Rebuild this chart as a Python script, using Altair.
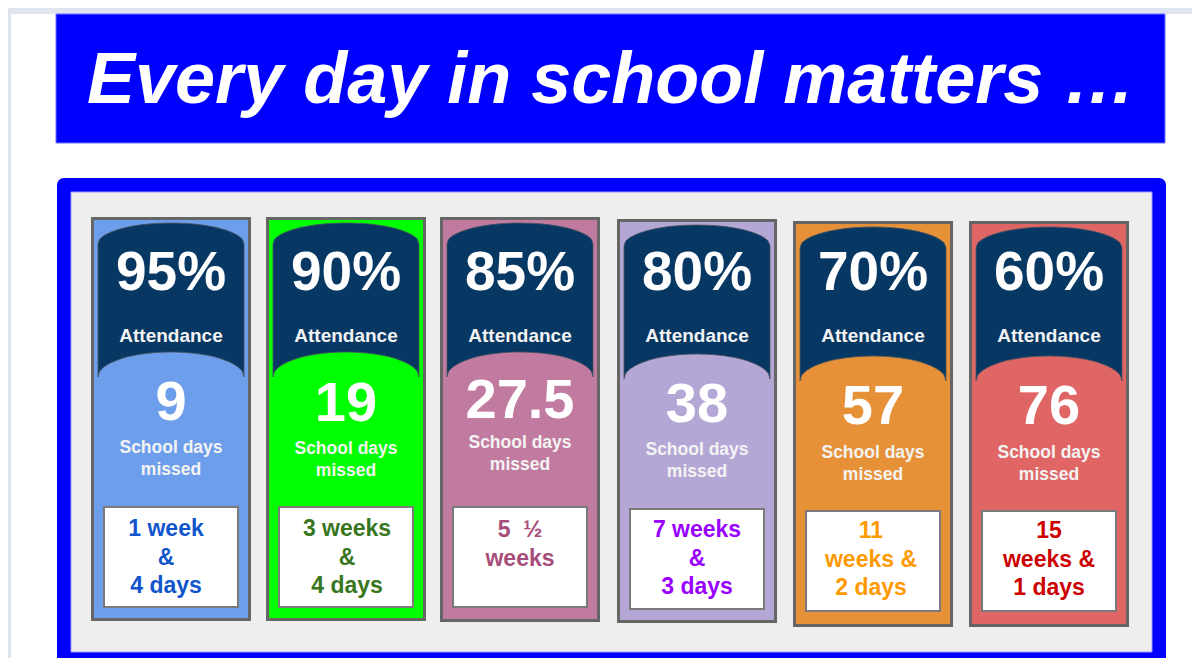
import math
import altair as alt
import pandas as pd

# ---------------- data ----------------
title = "Every day in school matters …"
attendance = ["95%", "90%", "85%", "80%", "70%", "60%"]
attendance_label = "Attendance"
days_missed = ["9", "19", "27.5", "38", "57", "76"]
missed_label = ["School days", "missed"]
equivalent = [
    ["1 week", "&", "4 days"],
    ["3 weeks", "&", "4 days"],
    ["5\u00a0\u00a0½", "weeks"],
    ["7 weeks", "&", "3 days"],
    ["11", "weeks &", "2 days"],
    ["15", "weeks &", "1 days"],
]

# ---------------- styles ----------------
card_fill = ["#6d9eeb", "#00ff00", "#c27ba0", "#b4a7d6", "#e69138", "#e06666"]
equiv_color = ["#1155cc", "#38761d", "#a64d79", "#9900ff", "#ff9900", "#cc0000"]
NAVY = "#073763"
BLUE = "#0000ff"
FONT = "Liberation Sans"

# ---------------- layout (pixel positions) ----------------
card_left = [91, 266, 440, 617, 793, 969]
card_top = [217, 217, 217, 219, 221, 221]
card_bottom = [621, 621, 622, 623, 627, 627]
CARD_W = 160
pct_base = [290, 290, 290, 290, 290, 290]
att_base = [342, 342, 342, 342, 342, 342]
num_base = [420, 421, 418, 422, 424, 424]
sd_base = [453, 454, 448, 455, 458, 458]
box_base = [536, 536, 537, 537, 538, 538]
box_text_dx = [-5, 1, 0, 0, -2, 0]

# ---------------- build tables ----------------
rects = [
    dict(x=0, x2=1200, y=0, y2=666, fill="#dfe5ef", stroke="#dfe5ef", sw=0),
    dict(x=11, x2=1200, y=14, y2=666, fill="#ffffff", stroke="#ffffff", sw=0),
    dict(x=56, x2=1165, y=14, y2=143, fill=BLUE, stroke="#6f6fff", sw=1),
]
frame = [dict(x=57, x2=1166, y=178, y2=720, fill=BLUE)]
inner = [dict(x=71, x2=1152, y=192, y2=652, fill="#eeeeee", stroke="#9a9aff", sw=1)]

cards, boxes, banners, texts = [], [], [], []
fracs = [0, 0.01, 0.03, 0.07, 0.14, 0.25, 0.38, 0.5, 0.62, 0.75, 0.86, 0.93, 0.97, 0.99, 1]
for i in range(6):
    L, T, B = card_left[i], card_top[i], card_bottom[i]
    cards.append(dict(x=L + 1.5, x2=L + CARD_W - 1.5, y=T + 1.5, y2=B - 1.5,
                      fill=card_fill[i], stroke="#666666", sw=3))
    boxes.append(dict(x=L + 13, x2=L + 147, y=T + 290, y2=T + 390,
                      fill="#ffffff", stroke="#7a7a7a", sw=2))
    for f in fracs:
        d = 1 - math.sqrt(max(0.0, 1 - (2 * f - 1) ** 2))
        banners.append(dict(card=i, x=L + 7 + f * 146,
                            y=T + 6 + 21 * d, y2=T + 135 + 25 * d))
    cx = L + 80
    texts.append(dict(x=cx, y=pct_base[i], text=attendance[i], size=55, color="#ffffff"))
    texts.append(dict(x=cx, y=att_base[i], text=attendance_label, size=19, color="#f3f3f3"))
    texts.append(dict(x=cx, y=num_base[i], text=days_missed[i], size=56, color="#ffffff"))
    texts.append(dict(x=cx, y=sd_base[i], text=missed_label[0], size=17.5, color="#f3f3f3"))
    texts.append(dict(x=cx, y=sd_base[i] + 22, text=missed_label[1], size=17.5, color="#f3f3f3"))
    for j, line in enumerate(equivalent[i]):
        texts.append(dict(x=cx + box_text_dx[i], y=box_base[i] + j * 28.5, text=line,
                          size=23, color=equiv_color[i]))

# the page has an 8px margin: chart pixel (0,0) sits at screen (8,8)
xs = alt.Scale(domain=[8, 1192], nice=False, zero=False)
ys = alt.Scale(domain=[8, 658], nice=False, zero=False, reverse=True)


def rect_layer(rows, corner=0):
    df = pd.DataFrame(rows)
    return alt.Chart(df).mark_rect(cornerRadius=corner).encode(
        x=alt.X("x:Q", scale=xs, axis=None),
        x2="x2:Q",
        y=alt.Y("y:Q", scale=ys, axis=None),
        y2="y2:Q",
        fill=alt.Fill("fill:N", scale=None),
        stroke=alt.Stroke("stroke:N", scale=None),
        strokeWidth=alt.StrokeWidth("sw:Q", scale=None),
    )


bg = rect_layer(rects)
frame_layer = alt.Chart(pd.DataFrame(frame)).mark_rect(cornerRadius=7).encode(
    x=alt.X("x:Q", scale=xs, axis=None), x2="x2:Q",
    y=alt.Y("y:Q", scale=ys, axis=None), y2="y2:Q",
    fill=alt.Fill("fill:N", scale=None),
)
inner_layer = rect_layer(inner)
card_layer = rect_layer(cards)
box_layer = rect_layer(boxes)

banner_layer = alt.Chart(pd.DataFrame(banners)).mark_area(
    interpolate="monotone", color=NAVY, stroke="#4a5560", strokeWidth=1, strokeOpacity=0.8
).encode(
    x=alt.X("x:Q", scale=xs, axis=None),
    y=alt.Y("y:Q", scale=ys, axis=None, stack=None),
    y2="y2:Q",
    detail="card:N",
)

title_layer = alt.Chart(pd.DataFrame([dict(x=87, y=103, text=title)])).mark_text(
    font=FONT, fontSize=72, fontWeight="bold", fontStyle="italic",
    align="left", baseline="alphabetic", color="#ffffff",
).encode(
    x=alt.X("x:Q", scale=xs, axis=None),
    y=alt.Y("y:Q", scale=ys, axis=None),
    text="text:N",
)

text_layer = alt.Chart(pd.DataFrame(texts)).mark_text(
    font=FONT, fontWeight="bold", align="center", baseline="alphabetic",
).encode(
    x=alt.X("x:Q", scale=xs, axis=None),
    y=alt.Y("y:Q", scale=ys, axis=None),
    text="text:N",
    size=alt.Size("size:Q", scale=None),
    color=alt.Color("color:N", scale=None),
)

chart = alt.layer(
    bg, frame_layer, inner_layer, card_layer, banner_layer, box_layer,
    title_layer, text_layer,
).properties(
    width=1184, height=650, padding=0, autosize="none", background="#ffffff",
).configure_view(strokeWidth=0)

chart.save("out.html", embed_options={"renderer": "svg", "actions": False})
